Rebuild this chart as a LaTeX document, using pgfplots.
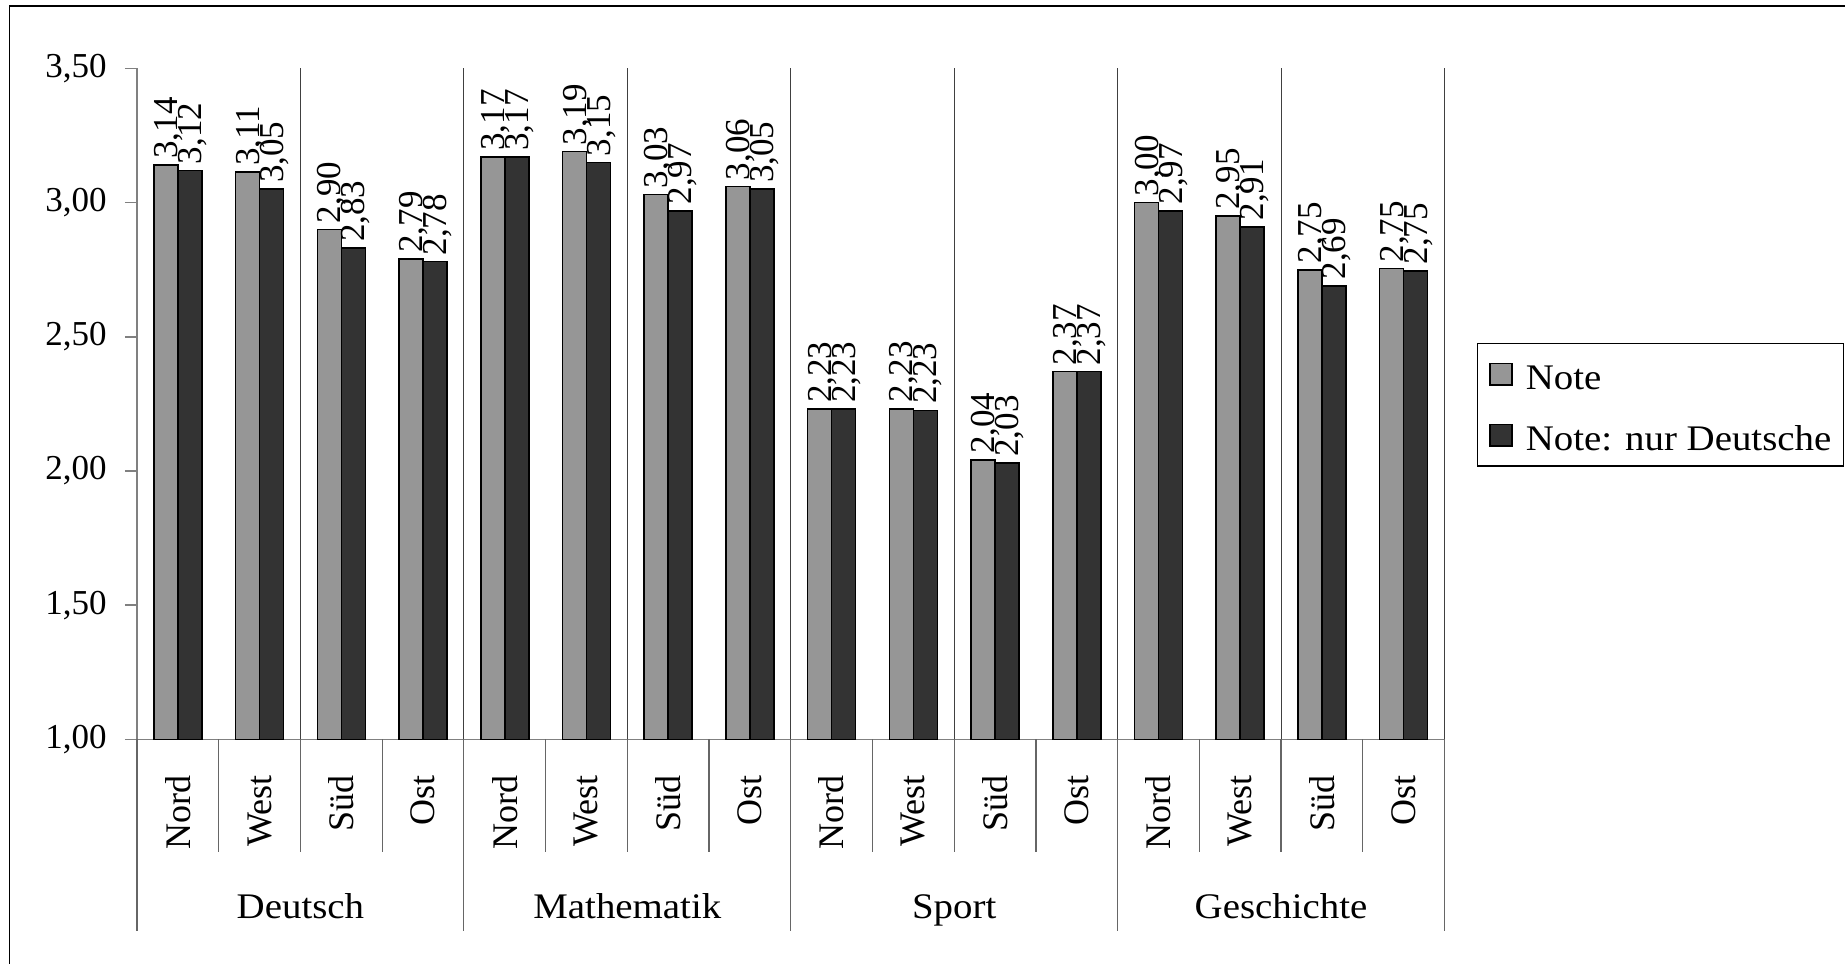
\documentclass[border=0pt]{standalone}
\usepackage{fontspec}
\setmainfont{Liberation Serif}
\newfontfamily\wide{Liberation Serif}[FakeStretch=1.08]
\usepackage{pgfplots}
\pgfplotsset{compat=1.18}
\usepackage{pgfplotstable}

\definecolor{lgray}{RGB}{150,150,150}
\definecolor{dgray}{RGB}{51,51,51}
\definecolor{axgray}{RGB}{128,128,128}

\pgfplotstableread{
x note deutsch
0 3.14 3.12
1 3.114 3.05
2 2.90 2.83
3 2.79 2.78
4 3.17 3.17
5 3.19 3.15
6 3.03 2.97
7 3.06 3.05
8 2.23 2.23
9 2.232 2.226
10 2.04 2.03
11 2.37 2.37
12 3.00 2.97
13 2.95 2.91
14 2.75 2.69
15 2.754 2.746
}\data

\begin{document}
\begin{tikzpicture}
\useasboundingbox (0,0) rectangle (922.5pt,481.5pt);
\draw[black, line width=0.6pt] (4.75pt,-5pt) -- (4.75pt,478.5pt) -- (930pt,478.5pt);
\begin{axis}[
  at={(68.5pt,111.85pt)}, anchor=south west,
  scale only axis, width=653.75pt, height=335.4pt,
  xmin=-0.5, xmax=15.5, ymin=1, ymax=3.5,
  ytick={1,1.5,2,2.5,3,3.5},
  xtick={0,...,15},
  xticklabels={Nord,West,Süd,Ost,Nord,West,Süd,Ost,Nord,West,Süd,Ost,Nord,West,Süd,Ost},
  axis lines*=left,
  axis line style={axgray, line width=0.75pt},
  tick align=outside,
  major tick length=6pt,
  ytick style={axgray, line width=0.75pt},
  xtick style={draw=none},
  yticklabel style={font=\fontsize{17.5}{17.5}\selectfont, inner sep=0pt, xshift=-9pt},
  xticklabel style={font=\fontsize{18}{18}\selectfont, rotate=90, anchor=east, inner ysep=0pt, inner xsep=11.9pt},
  /pgf/number format/.cd, fixed, fixed zerofill, precision=2, use comma, assume math mode=true, /pgfplots/.cd,
  ybar, bar width=12pt,
  clip mode=individual,
  nodes near coords,
  every node near coord/.append style={font=\fontsize{17.5}{17.5}\selectfont, rotate=90, anchor=west, inner xsep=2.8pt, inner ysep=0pt, text depth=0pt, black},
  legend style={at={(1,1)}, anchor=north west, xshift=16.1pt, yshift=-137.1pt,
    draw=black, line width=0.6pt, inner xsep=6pt, inner ysep=3pt,
    row sep=5.65pt, column sep=6.65pt,
    font=\wide\fontsize{18}{18}\selectfont,
    nodes={inner sep=0pt, text height=20pt, text depth=4.85pt}},
  legend cell align=left,
  legend image code/.code={\draw[#1, line width=0.8pt] (0pt,-5.4pt) rectangle (10.8pt,5.4pt);},
]
\addplot[fill=lgray, draw=black, line width=0.8pt, bar shift=-6pt] table[x=x,y=note]{\data};
\addplot[fill=dgray, draw=black, line width=0.8pt, bar shift=6pt] table[x=x,y=deutsch]{\data};
\legend{Note, Note: nur Deutsche}
\pgfplotsinvokeforeach{0,...,16}{\coordinate (b#1) at (axis cs:{#1-0.5},1); \coordinate (t#1) at (axis cs:{#1-0.5},3.5);}
\coordinate (g1) at (axis cs:1.5,1);
\coordinate (g2) at (axis cs:5.5,1);
\coordinate (g3) at (axis cs:9.5,1);
\coordinate (g4) at (axis cs:13.5,1);
\end{axis}
\foreach \i in {2,4,...,16} \draw[black!75, line width=0.5pt] (b\i) -- (t\i);
\foreach \i in {0,...,16} \draw[black!60, line width=0.6pt] (b\i) -- ++(0,-56.2pt);
\foreach \i in {0,4,8,12,16} \draw[black!60, line width=0.6pt] (b\i) -- ++(0,-95.6pt);
\begin{scope}[every node/.style={anchor=base, font=\wide\fontsize{18}{18}\selectfont, inner sep=0pt}]
\node at ([yshift=-89.5pt]g1) {Deutsch};
\node at ([yshift=-89.5pt]g2) {Mathematik};
\node at ([yshift=-89.5pt]g3) {Sport};
\node at ([yshift=-89.5pt]g4) {Geschichte};
\end{scope}
\end{tikzpicture}
\end{document}
